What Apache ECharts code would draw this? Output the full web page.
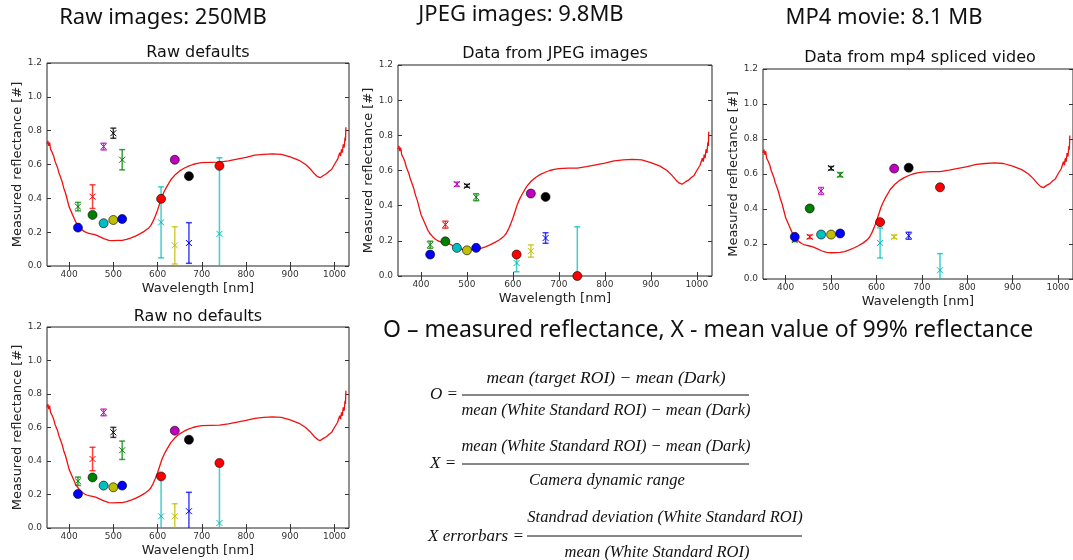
<!DOCTYPE html>
<html>
<head>
<meta charset="utf-8">
<script src="https://cdn.jsdelivr.net/npm/echarts@6/dist/echarts.min.js"></script>
<style>
  html, body { margin: 0; padding: 0; background: #fff; }
  #chart-container { width: 1073px; height: 560px; }
</style>
</head>
<body>
<div id="chart-container"></div>
<script>
// reference spectrum (red line)
var refWavelength = [350, 352, 354, 356, 358, 360, 362, 365, 368, 371, 374, 377, 380, 384, 388, 392, 396, 400, 405, 410, 415, 420, 425, 430, 435, 440, 445, 450, 460, 470, 480, 490, 500, 510, 520, 530, 540, 550, 560, 570, 580, 585, 590, 595, 600, 605, 610, 615, 620, 630, 640, 650, 660, 670, 680, 690, 700, 720, 740, 760, 780, 800, 820, 840, 860, 880, 900, 920, 935, 945, 955, 962, 968, 975, 982, 988, 994, 1000, 1004, 1007, 1010, 1012, 1014, 1016, 1018, 1020, 1022, 1024, 1025, 1026];
var refReflectance = [0.72, 0.74, 0.71, 0.73, 0.69, 0.70, 0.67, 0.65, 0.62, 0.60, 0.58, 0.55, 0.53, 0.50, 0.46, 0.43, 0.39, 0.35, 0.32, 0.29, 0.26, 0.24, 0.225, 0.212, 0.203, 0.197, 0.193, 0.19, 0.184, 0.172, 0.16, 0.152, 0.15, 0.151, 0.152, 0.157, 0.166, 0.177, 0.19, 0.205, 0.225, 0.24, 0.265, 0.295, 0.33, 0.37, 0.41, 0.44, 0.465, 0.51, 0.54, 0.562, 0.578, 0.59, 0.60, 0.607, 0.611, 0.613, 0.614, 0.622, 0.632, 0.642, 0.655, 0.66, 0.663, 0.66, 0.645, 0.625, 0.60, 0.575, 0.545, 0.528, 0.522, 0.535, 0.545, 0.56, 0.572, 0.60, 0.61, 0.63, 0.64, 0.67, 0.65, 0.69, 0.67, 0.72, 0.70, 0.76, 0.74, 0.82];

// filter wavelengths of the camera measurements
var wavelengths = [420, 453, 478, 500, 520, 608, 639, 671, 740];
var circleColorKeys = ['b', 'g', 'c', 'y', 'b', 'r', 'm', 'k', 'r'];
var crossColorKeys = ['g', 'r', 'm', 'k', 'g', 'c', 'y', 'b', 'c'];

// O - measured reflectance
var rawDefaultsO = [0.227, 0.302, 0.253, 0.272, 0.278, 0.397, 0.628, 0.531, 0.592];
var jpegO = [0.122, 0.197, 0.16, 0.146, 0.16, 0.122, 0.469, 0.45, 0.0];
var mp4O = [0.241, 0.403, 0.254, 0.254, 0.26, 0.325, 0.631, 0.636, 0.524];
var rawNoDefaultsO = [0.203, 0.302, 0.253, 0.243, 0.253, 0.308, 0.581, 0.527, 0.388];

// X - mean value of 99% reflectance, with error bars
var rawDefaultsX = [0.351, 0.41, 0.706, 0.785, 0.628, 0.258, 0.122, 0.136, 0.19];
var rawDefaultsErr = [0.025, 0.07, 0.02, 0.03, 0.06, 0.21, 0.11, 0.12, 0.45];
var jpegX = [0.178, 0.292, 0.522, 0.513, 0.448, 0.074, 0.142, 0.216, 0.003];
var jpegErr = [0.02, 0.02, 0.012, 0.008, 0.02, 0.05, 0.035, 0.03, 0.277];
var mp4X = [0.222, 0.241, 0.503, 0.633, 0.596, 0.206, 0.241, 0.247, 0.05];
var mp4Err = [0.008, 0.01, 0.02, 0.01, 0.012, 0.086, 0.01, 0.02, 0.095];
var rawNoDefaultsX = [0.279, 0.412, 0.69, 0.571, 0.464, 0.07, 0.07, 0.1, 0.03];
var rawNoDefaultsErr = [0.025, 0.07, 0.02, 0.03, 0.055, 0.23, 0.075, 0.113, 0.355];

var xTicks = [400, 500, 600, 700, 800, 900, 1000];
var yTicks = [0, 0.2, 0.4, 0.6, 0.8, 1.0, 1.2];

var panelTitles = ['Raw defaults', 'Data from JPEG images', 'Data from mp4 spliced video', 'Raw no defaults'];
var headers = ['Raw images: 250MB', 'JPEG images: 9.8MB', 'MP4 movie: 8.1 MB'];

var mpl = { b: '#0000ff', g: '#008000', r: '#ff0000', c: '#00bfbf', m: '#bf00bf', y: '#bfbf00', k: '#000000' };

var panels = [
  { o: rawDefaultsO, x: rawDefaultsX, err: rawDefaultsErr, grid: { left: 47, top: 63, width: 302, height: 203 } },
  { o: jpegO, x: jpegX, err: jpegErr, grid: { left: 398, top: 65, width: 314, height: 211 } },
  { o: mp4O, x: mp4X, err: mp4Err, grid: { left: 763, top: 69, width: 314, height: 210 } },
  { o: rawNoDefaultsO, x: rawNoDefaultsX, err: rawNoDefaultsErr, grid: { left: 47, top: 327, width: 302, height: 201 } }
];

var dom = document.getElementById('chart-container');
var myChart = echarts.init(dom, null, { renderer: 'canvas' });

var tickFont = { fontFamily: 'DejaVu Sans', fontSize: 9, color: '#333' };
var nameFont = { fontFamily: 'DejaVu Sans', fontSize: 13, color: '#222' };

var refLine = refWavelength.map(function (w, i) { return [w, refReflectance[i]]; });

function renderErrorBar(params, api) {
  var w = api.value(0), v = api.value(1), e = api.value(2);
  var top = api.coord([w, v + e]);
  var bot = api.coord([w, v - e]);
  var mid = api.coord([w, v]);
  var col = mpl[crossColorKeys[params.dataIndex]];
  var cap = 3, m = 3;
  var barStyle = { stroke: col, lineWidth: 1.5, opacity: 0.75 };
  return {
    type: 'group',
    children: [
      { type: 'line', shape: { x1: top[0], y1: top[1], x2: bot[0], y2: bot[1] }, style: barStyle },
      { type: 'line', shape: { x1: top[0] - cap, y1: top[1], x2: top[0] + cap, y2: top[1] }, style: barStyle },
      { type: 'line', shape: { x1: bot[0] - cap, y1: bot[1], x2: bot[0] + cap, y2: bot[1] }, style: barStyle },
      { type: 'line', shape: { x1: mid[0] - m, y1: mid[1] - m, x2: mid[0] + m, y2: mid[1] + m }, style: { stroke: col, lineWidth: 1 } },
      { type: 'line', shape: { x1: mid[0] - m, y1: mid[1] + m, x2: mid[0] + m, y2: mid[1] - m }, style: { stroke: col, lineWidth: 1 } }
    ]
  };
}

var grids = [], xAxes = [], yAxes = [], series = [];
panels.forEach(function (p, i) {
  grids.push(Object.assign({ show: true, borderColor: '#222', borderWidth: 1, backgroundColor: '#fff' }, p.grid));
  // bottom + top x axes, left + right y axes (matplotlib box with inward ticks)
  xAxes.push({
    type: 'value', gridIndex: i, min: 350, max: 1033, position: 'bottom',
    name: 'Wavelength [nm]', nameLocation: 'middle', nameGap: 16, nameTextStyle: nameFont,
    axisLine: { show: false }, splitLine: { show: false },
    axisTick: { inside: true, length: 4, customValues: xTicks, lineStyle: { color: '#333' } },
    axisLabel: Object.assign({ margin: 4, customValues: xTicks, formatter: function (v) { return String(v); } }, tickFont)
  });
  xAxes.push({
    type: 'value', gridIndex: i, min: 350, max: 1033, position: 'top',
    axisLine: { show: false }, splitLine: { show: false }, axisLabel: { show: false },
    axisTick: { inside: true, length: 4, customValues: xTicks, lineStyle: { color: '#333' } }
  });
  yAxes.push({
    type: 'value', gridIndex: i, min: 0, max: 1.2, position: 'left',
    name: 'Measured reflectance [#]', nameLocation: 'middle', nameGap: 22, nameTextStyle: nameFont,
    axisLine: { show: false }, splitLine: { show: false },
    axisTick: { inside: true, length: 4, customValues: yTicks, lineStyle: { color: '#333' } },
    axisLabel: Object.assign({ margin: 5, customValues: yTicks, formatter: function (v) { return v.toFixed(1); } }, tickFont)
  });
  yAxes.push({
    type: 'value', gridIndex: i, min: 0, max: 1.2, position: 'right',
    axisLine: { show: false }, splitLine: { show: false }, axisLabel: { show: false },
    axisTick: { inside: true, length: 4, customValues: yTicks, lineStyle: { color: '#333' } }
  });

  series.push({
    type: 'line', xAxisIndex: 2 * i, yAxisIndex: 2 * i, data: refLine,
    showSymbol: false, clip: true, z: 2,
    lineStyle: { color: '#f01010', width: 1.3 }
  });
  series.push({
    type: 'custom', xAxisIndex: 2 * i, yAxisIndex: 2 * i, clip: true, z: 3,
    encode: { x: 0, y: 1 },
    data: wavelengths.map(function (w, k) { return [w, p.x[k], p.err[k]]; }),
    renderItem: renderErrorBar
  });
  series.push({
    type: 'scatter', xAxisIndex: 2 * i, yAxisIndex: 2 * i, clip: true, z: 4,
    symbol: 'circle', symbolSize: 9,
    data: wavelengths.map(function (w, k) { return [w, p.o[k]]; }),
    itemStyle: {
      opacity: 1, borderColor: '#000', borderWidth: 0.6,
      color: function (params) { return mpl[circleColorKeys[params.dataIndex]]; }
    }
  });
});

// texts: headers, panel titles, legend note and formulas
var serif = 'italic 16.5px "Liberation Serif"';
var serifWide = 'italic 17.5px "Liberation Serif"';
var serifLabel = 'italic 17px "Liberation Serif"';
function txt(t, x, y, font, align) {
  return { type: 'text', x: x, y: y, style: { text: t, font: font, fill: '#111', align: align || 'center', verticalAlign: 'middle' } };
}
function bar(x1, x2, y) {
  return { type: 'line', shape: { x1: x1, y1: y, x2: x2, y2: y }, style: { stroke: '#111', lineWidth: 1 } };
}
var headerFont = '22px "Noto Sans"';
var noteFont = '23px "Noto Sans"';
var titleFont = '16px "DejaVu Sans"';
var graphics = [
  txt(headers[0], 163, 18, headerFont),
  txt(headers[1], 521, 15, headerFont),
  txt(headers[2], 884, 18, headerFont),
  txt(panelTitles[0], 198, 53, titleFont),
  txt(panelTitles[1], 555, 54, titleFont),
  txt(panelTitles[2], 920, 58, titleFont),
  txt(panelTitles[3], 198, 317, titleFont),
  txt('O \u2013 measured reflectance, X - mean value of 99% reflectance', 383, 330, noteFont, 'left'),

  txt('O =', 430, 395, serifLabel, 'left'),
  txt('mean (target ROI) \u2212 mean (Dark)', 606, 378, serifWide),
  bar(462, 749, 395),
  txt('mean (White Standard ROI) \u2212 mean (Dark)', 606, 411, serif),

  txt('X =', 430, 464, serifLabel, 'left'),
  txt('mean (White Standard ROI) \u2212 mean (Dark)', 606, 447, serif),
  bar(462, 749, 464),
  txt('Camera dynamic range', 607, 481, serif),

  txt('X errorbars =', 428, 537, serifLabel, 'left'),
  txt('Standrad deviation (White Standard ROI)', 665, 518, serif),
  bar(527, 802, 536),
  txt('mean (White Standard ROI)', 657, 553, serif)
];

var option = {
  animation: false,
  backgroundColor: '#fff',
  grid: grids,
  xAxis: xAxes,
  yAxis: yAxes,
  series: series,
  graphic: graphics
};

myChart.setOption(option);
window.addEventListener('resize', myChart.resize);
</script>
</body>
</html>
